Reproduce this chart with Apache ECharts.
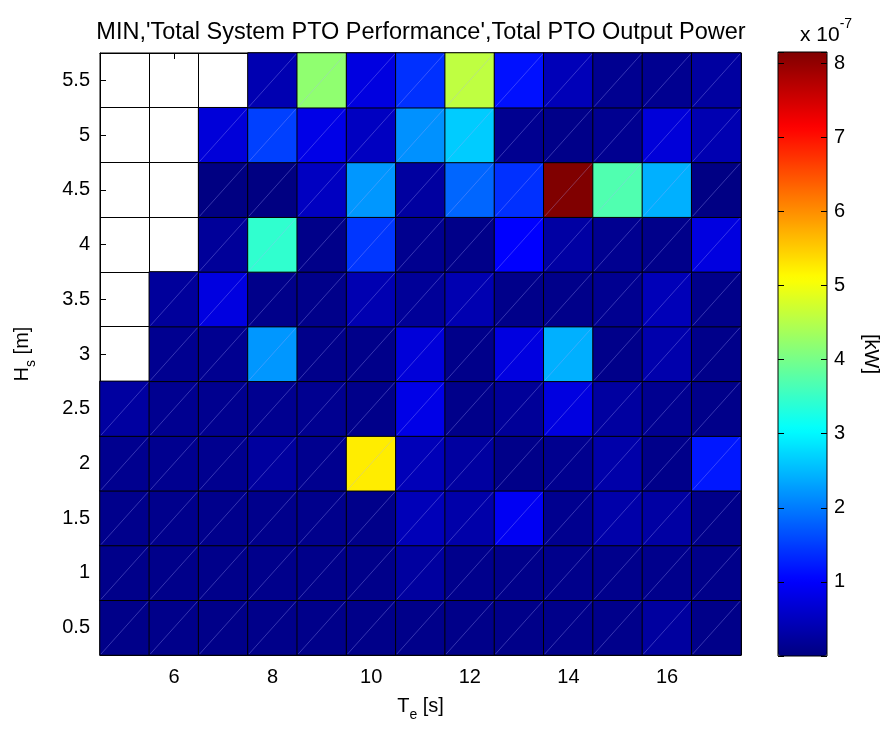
<!DOCTYPE html>
<html><head><meta charset="utf-8">
<script src="https://cdn.jsdelivr.net/npm/echarts@6/dist/echarts.min.js"></script>
<style>html,body{margin:0;padding:0;background:#fff}#c{width:890px;height:731px}</style>
</head><body><div id="c"></div>
<script>
// Categories
const teValues = ['5','6','7','8','9','10','11','12','13','14','15','16','17'];
const hsValues = ['0.5','1','1.5','2','2.5','3','3.5','4','4.5','5','5.5'];
// Values in units of 1e-7 kW, one array per Hs row, columns Te = 5..17 (null = no data)
const hs05 = [0.07,0.08,0.07,0.08,0.08,0.07,0.08,0.07,0.07,0.08,0.09,0.25,0.07];
const hs10 = [0.08,0.08,0.08,0.09,0.08,0.08,0.25,0.10,0.08,0.09,0.10,0.10,0.08];
const hs15 = [0.10,0.10,0.10,0.10,0.10,0.08,0.45,0.33,0.92,0.12,0.33,0.28,0.08];
const hs20 = [0.12,0.12,0.12,0.24,0.12,5.24,0.45,0.26,0.07,0.12,0.33,0.08,1.20];
const hs25 = [0.26,0.13,0.12,0.13,0.13,0.08,0.83,0.08,0.19,0.77,0.26,0.13,0.08];
const hs30 = [null,0.13,0.13,2.22,0.08,0.08,0.71,0.08,0.77,2.42,0.08,0.35,0.08];
const hs35 = [null,0.22,0.77,0.08,0.08,0.39,0.19,0.39,0.08,0.08,0.13,0.45,0.08];
const hs40 = [null,null,0.20,3.44,0.07,1.45,0.12,0.07,1.02,0.28,0.13,0.08,0.77];
const hs45 = [null,null,0.02,0.02,0.52,2.22,0.26,1.83,1.40,8.15,3.69,2.42,0.03];
const hs50 = [null,null,0.71,1.53,0.83,0.52,2.17,2.65,0.13,0.07,0.13,0.71,0.39];
const hs55 = [null,null,null,0.39,4.20,0.77,1.40,4.58,1.15,0.45,0.13,0.13,0.26];
// Colorbar
const cbMin = 0;
const cbMax = 8.15;
const cbTicks = [1,2,3,4,5,6,7,8];
const jet = ['#000080','#0000ff','#0080ff','#00ffff','#80ff80','#ffff00','#ff8000','#ff0000','#800000'];

const rows = [hs05,hs10,hs15,hs20,hs25,hs30,hs35,hs40,hs45,hs50,hs55];
const cells = [];
rows.forEach((r, yi) => r.forEach((v, xi) => { if (v !== null) cells.push([xi, yi, v]); }));

const FONT = '"Liberation Sans", Arial, sans-serif';
const evenTe = (i, v) => (+v) % 2 === 0;
const subRich = {
  a: {fontSize: 20, color: '#000', lineHeight: 22, verticalAlign: 'top', fontFamily: FONT},
  b: {fontSize: 14, color: '#000', lineHeight: 16, padding: [12,0,0,0], verticalAlign: 'top', fontFamily: FONT}
};

const chart = echarts.init(document.getElementById('c'), null, {renderer: 'canvas'});
chart.setOption({
  animation: false,
  backgroundColor: '#fff',
  textStyle: {fontFamily: FONT},
  grid: [
    {left: 100, top: 53, width: 641, height: 602, show: true, borderColor: '#000', borderWidth: 1, backgroundColor: '#fff'},
    {left: 778, top: 52, width: 49, height: 604, show: true, borderColor: '#000', borderWidth: 1, z: 10}
  ],
  xAxis: [
    {gridIndex: 0, type: 'category', data: teValues, position: 'bottom',
     axisLine: {show: true, lineStyle: {color: '#000'}},
     axisTick: {show: true, inside: true, alignWithLabel: true, length: 6, interval: evenTe, lineStyle: {color: '#000'}},
     axisLabel: {interval: evenTe, color: '#000', fontSize: 20, margin: 12, fontFamily: FONT},
     splitLine: {show: true, interval: 0, lineStyle: {color: '#000', width: 1}},
     name: '{a|T}{b|e}{a| [s]}', nameLocation: 'middle', nameGap: 41,
     nameTextStyle: {rich: subRich}},
    {gridIndex: 0, type: 'category', data: teValues, position: 'top',
     axisLine: {show: true, lineStyle: {color: '#000'}},
     axisTick: {show: true, inside: true, alignWithLabel: true, length: 6, interval: evenTe, lineStyle: {color: '#000'}},
     axisLabel: {show: false}, splitLine: {show: false}},
    {gridIndex: 1, type: 'value', min: 0, max: 1, show: false}
  ],
  yAxis: [
    {gridIndex: 0, type: 'category', data: hsValues, position: 'left',
     axisLine: {show: true, lineStyle: {color: '#000'}},
     axisTick: {show: true, inside: true, alignWithLabel: true, length: 6, interval: 0, lineStyle: {color: '#000'}},
     axisLabel: {interval: 0, color: '#000', fontSize: 20, margin: 10, fontFamily: FONT},
     splitLine: {show: true, interval: 0, lineStyle: {color: '#000', width: 1}},
     name: '{a|H}{b|s}{a| [m]}', nameLocation: 'middle', nameGap: 66, nameRotate: 90,
     nameTextStyle: {rich: subRich}},
    {gridIndex: 1, type: 'value', min: cbMin, max: cbMax, interval: 1, position: 'left', z: 10,
     axisLine: {show: false}, axisLabel: {show: false}, splitLine: {show: false},
     axisTick: {show: true, inside: true, length: 6, lineStyle: {color: '#000'}}},
    {gridIndex: 1, type: 'value', min: cbMin, max: cbMax, interval: 1, position: 'right', z: 10,
     axisLine: {show: false}, splitLine: {show: false},
     axisTick: {show: true, inside: true, length: 6, lineStyle: {color: '#000'}},
     axisLabel: {color: '#000', fontSize: 20, margin: 7, fontFamily: FONT,
       formatter: v => cbTicks.indexOf(v) >= 0 ? String(v) : ''},
     name: '[kW]', nameLocation: 'middle', nameRotate: -90, nameGap: 34,
     nameTextStyle: {color: '#000', fontSize: 20, fontFamily: FONT}}
  ],
  visualMap: {
    type: 'continuous', min: cbMin, max: cbMax, seriesIndex: 0, dimension: 2,
    inRange: {color: jet}, left: 778, top: 52, itemWidth: 49, itemHeight: 604,
    padding: 0, calculable: false, showLabel: false, hoverLink: false, z: 1
  },
  graphic: [
    {type: 'text', x: 421, y: 33, z: 20, style: {
      text: "MIN,'Total System PTO Performance',Total PTO Output Power",
      font: '23.5px "Liberation Sans", Arial, sans-serif', fill: '#000',
      textAlign: 'center', textVerticalAlign: 'middle'}},
    {type: 'text', x: 800, y: 17, z: 20, style: {
      text: '{a|x 10}{b|-7}',
      rich: {
        a: {fontSize: 21, lineHeight: 22, padding: [8,0,0,0], verticalAlign: 'top', fill: '#000', fontFamily: FONT},
        b: {fontSize: 14, lineHeight: 16, verticalAlign: 'top', fill: '#000', fontFamily: FONT}
      }}}
  ],
  series: [
    {type: 'heatmap', xAxisIndex: 0, yAxisIndex: 0, data: cells,
     itemStyle: {borderColor: '#000', borderWidth: 1}, emphasis: {disabled: true}},
    {type: 'custom', xAxisIndex: 0, yAxisIndex: 0, data: cells, silent: true, z: 3,
     encode: {x: 0, y: 1},
     renderItem: function (params, api) {
       const c = api.coord([api.value(0), api.value(1)]);
       const s = api.size([1, 1]);
       const x0 = c[0] - s[0] / 2, y0 = c[1] + s[1] / 2;
       return {type: 'line', silent: true,
         shape: {x1: x0 + 1, y1: y0 - 1, x2: x0 + s[0] - 1, y2: y0 - s[1] + 1},
         style: {stroke: 'rgba(170,170,255,0.4)', lineWidth: 0.8}};
     }}
  ]
});
</script>
</body></html>
